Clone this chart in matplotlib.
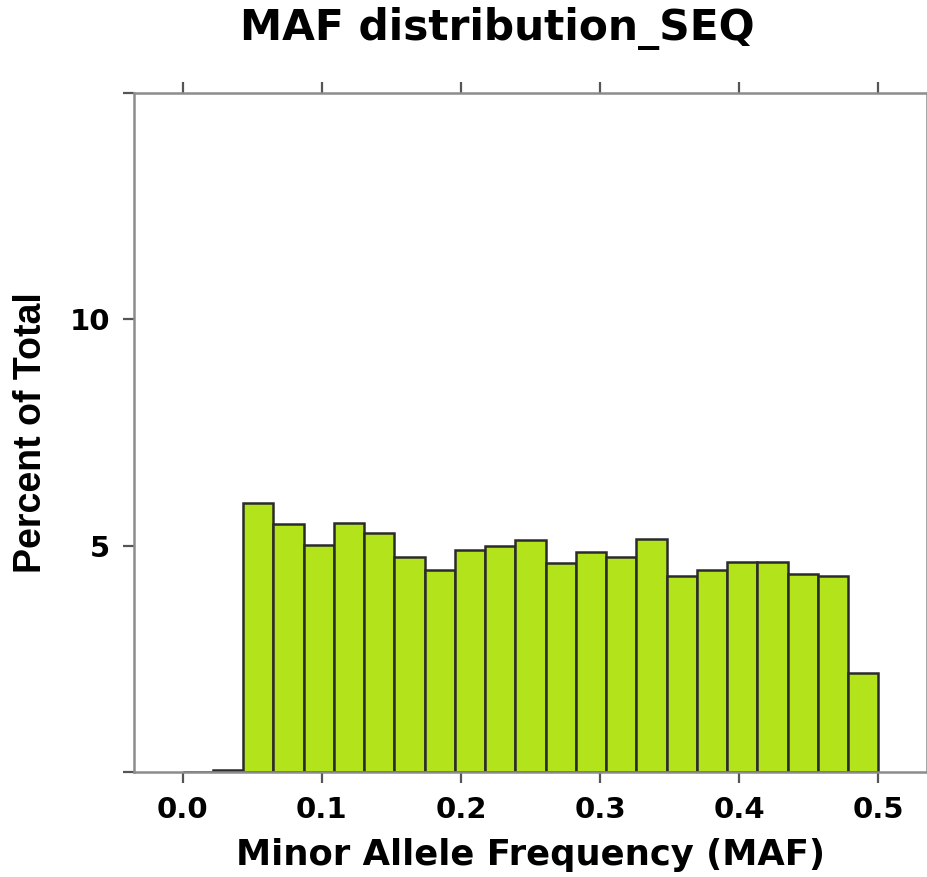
import numpy as np
import matplotlib
matplotlib.use('Agg')
import matplotlib.pyplot as plt

# histogram: 23 equal bins over [0, 0.5], percent of total per bin
bin_lo = 0.0
bin_hi = 0.5
n_bins = 23
percent = [0.0, 0.05, 5.94, 5.48, 5.01, 5.50, 5.27, 4.76, 4.47, 4.91, 5.00,
           5.12, 4.62, 4.87, 4.75, 5.15, 4.34, 4.47, 4.63, 4.63, 4.37, 4.32, 2.18]
x_ticks = [0.0, 0.1, 0.2, 0.3, 0.4, 0.5]
x_ticklabels = ['0.0', '0.1', '0.2', '0.3', '0.4', '0.5']
y_ticks = [0, 5, 10, 15]
y_ticklabels = ['', '5', '10', '']

plt.rcParams['font.family'] = ['DejaVu Sans']
plt.rcParams['font.weight'] = 'bold'

edges = np.linspace(bin_lo, bin_hi, n_bins + 1)
widths = np.diff(edges)

fig = plt.figure(figsize=(9.28, 8.77), dpi=100)
ax = fig.add_axes([0.1444, 0.1197, 0.8546, 0.7743])

ax.bar(edges[:-1], percent, width=widths, align='edge',
       color='#b3e31a', edgecolor='#2b2b2b', linewidth=1.8, zorder=2)

ax.set_xlim(-0.035, 0.535)
ax.set_ylim(0, 15)

for s in ax.spines.values():
    s.set_color('#8c8c8c')
    s.set_linewidth(1.8)

ax.set_xticks(x_ticks)
ax.set_xticklabels(x_ticklabels)
ax.set_yticks(y_ticks)
ax.set_yticklabels(y_ticklabels)
ax.tick_params(axis='both', direction='out', length=8, width=1.6,
               color='#555555', labelsize=21)
ax.tick_params(axis='x', top=True, bottom=True, pad=9)
ax.tick_params(axis='y', right=True, left=True, pad=9)

ax.set_xlabel('Minor Allele Frequency (MAF)', fontsize=25.5, fontweight='bold',
              labelpad=10)

# y label is drawn narrower in the source (Helvetica-like)
fig.text(31 / 928, 1 - 433 / 877, 'Percent of Total', fontsize=27,
         fontweight='bold', family=['Liberation Sans', 'DejaVu Sans'],
         rotation=90, ha='center', va='center')

fig.text(497 / 928, 1 - 29 / 877, 'MAF distribution_SEQ', fontsize=30.5,
         fontweight='bold', ha='center', va='center')

fig.savefig('out.png', dpi=100)
plt.close(fig)
